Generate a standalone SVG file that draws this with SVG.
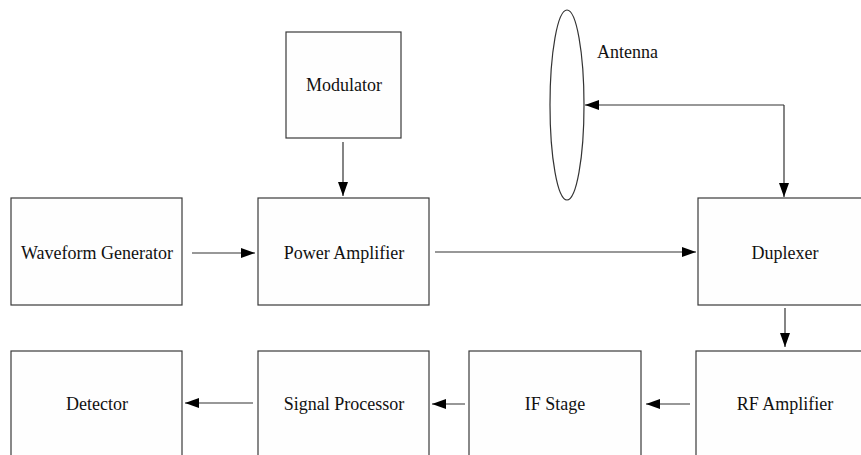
<svg xmlns="http://www.w3.org/2000/svg" width="861" height="455" viewBox="0 0 861 455">
  <style>
    .box { fill: #fefefe; stroke: #3a3a3a; stroke-width: 1.2; }
    .lbl { font-family: "Liberation Serif", "Times New Roman", serif; font-size: 18px; fill: #111; text-anchor: middle; }
    .wire { fill: none; stroke: #333; stroke-width: 1.2; marker-end: url(#head); }
  </style>
  <defs>
    <marker id="head" viewBox="0 0 14 10" refX="14" refY="5" markerWidth="14" markerHeight="10" markerUnits="userSpaceOnUse" orient="auto">
      <path d="M0,0 L14,5 L0,10 Z" fill="#000"/>
    </marker>
  </defs>
  <rect width="861" height="455" fill="#fff"/>

  <g id="antenna">
    <ellipse cx="567" cy="105" rx="17" ry="95" fill="none" stroke="#333" stroke-width="1.2"/>
    <text x="597" y="58" font-family="Liberation Serif, Times New Roman, serif" font-size="18" fill="#111">Antenna</text>
  </g>
  <g id="modulator">
    <rect class="box" x="286" y="32" width="115" height="106"/>
    <text class="lbl" x="344" y="91">Modulator</text>
  </g>
  <g id="waveform-generator">
    <rect class="box" x="11" y="198" width="171" height="107"/>
    <text class="lbl" x="97" y="259">Waveform Generator</text>
  </g>
  <g id="power-amplifier">
    <rect class="box" x="258" y="198" width="171" height="107"/>
    <text class="lbl" x="344" y="259">Power Amplifier</text>
  </g>
  <g id="duplexer">
    <rect class="box" x="698" y="198" width="175" height="107"/>
    <text class="lbl" x="785" y="259">Duplexer</text>
  </g>
  <g id="detector">
    <rect class="box" x="11" y="351" width="171" height="115"/>
    <text class="lbl" x="97" y="410">Detector</text>
  </g>
  <g id="signal-processor">
    <rect class="box" x="258" y="351" width="171" height="115"/>
    <text class="lbl" x="344" y="410">Signal Processor</text>
  </g>
  <g id="if-stage">
    <rect class="box" x="469" y="351" width="172" height="115"/>
    <text class="lbl" x="555" y="410">IF Stage</text>
  </g>
  <g id="rf-amplifier">
    <rect class="box" x="696" y="351" width="180" height="115"/>
    <text class="lbl" x="785" y="410">RF Amplifier</text>
  </g>

  <g id="connectors">
    <path class="wire" d="M343,142 V196"/>
    <path class="wire" d="M192,253 H255"/>
    <path class="wire" d="M435,252 H696"/>
    <path class="wire" d="M784,105 H585"/>
    <path class="wire" d="M784,105 V197"/>
    <path class="wire" d="M785,308 V347"/>
    <path class="wire" d="M690,404 H646"/>
    <path class="wire" d="M465,404 H432"/>
    <path class="wire" d="M253,403 H185"/>
  </g>
</svg>
